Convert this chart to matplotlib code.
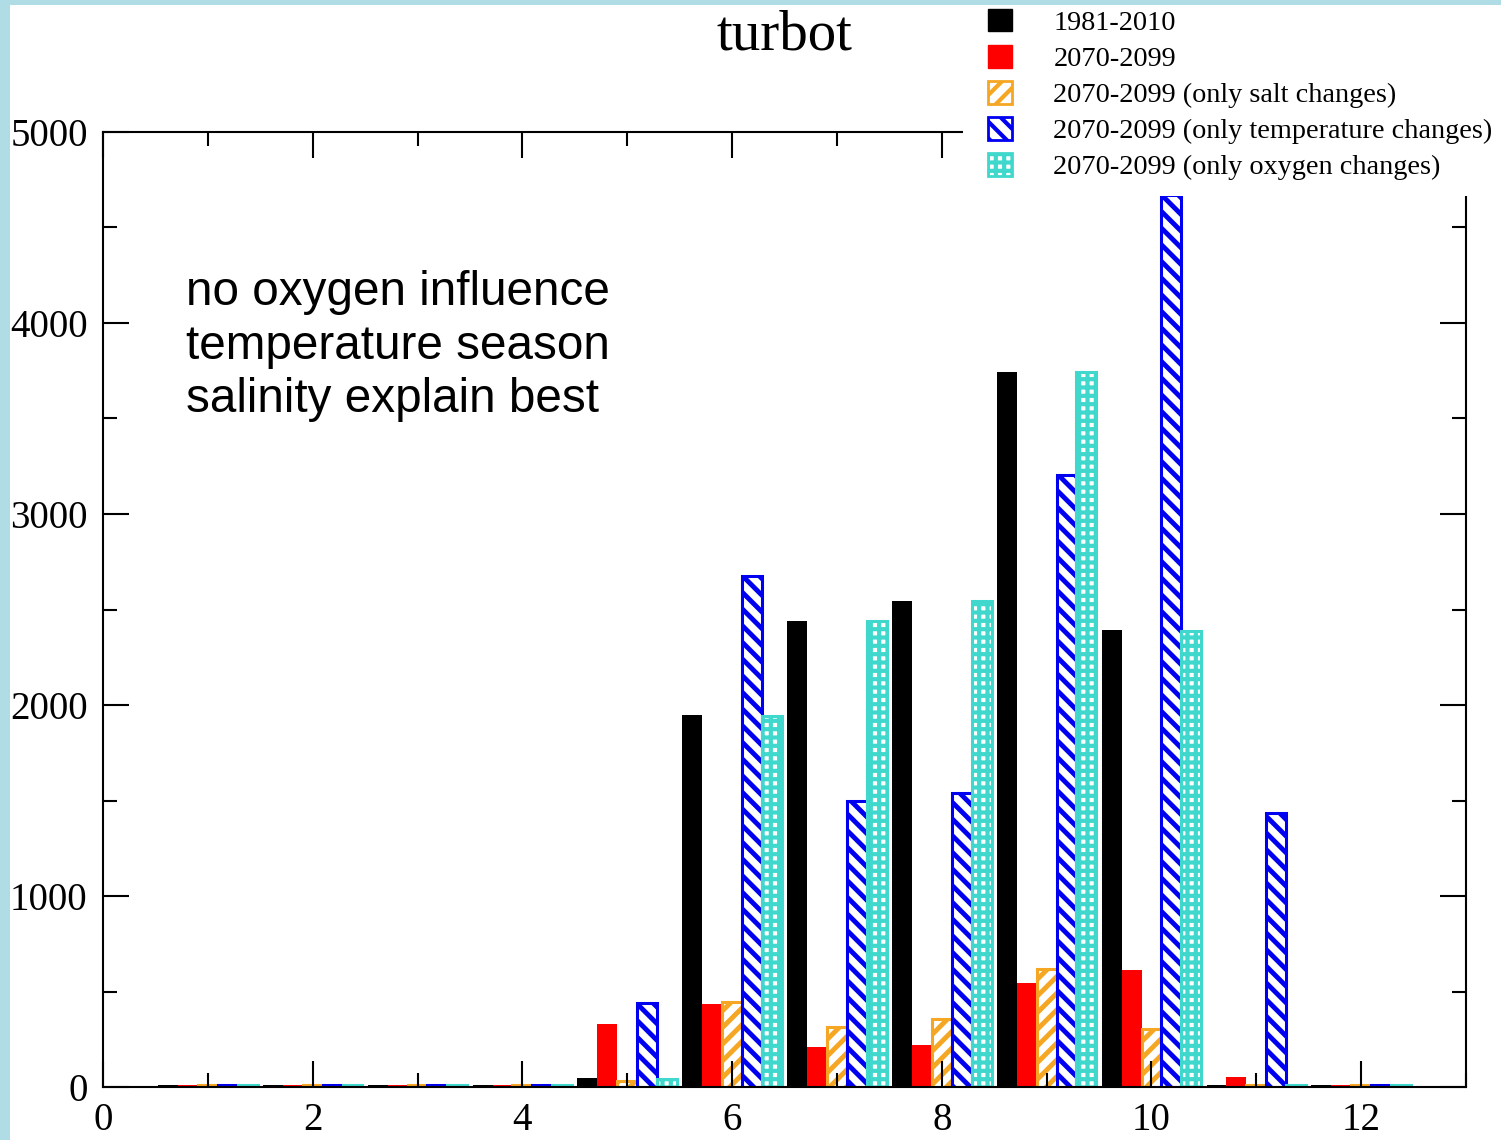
import matplotlib
matplotlib.use("Agg")
import matplotlib.pyplot as plt
from matplotlib.patches import Patch, Rectangle
from matplotlib.ticker import MultipleLocator
import numpy as np

months = [1, 2, 3, 4, 5, 6, 7, 8, 9, 10, 11, 12]
past = [10, 10, 10, 10, 45, 1950, 2440, 2545, 3745, 2395, 10, 10]
future = [10, 10, 10, 10, 330, 432, 210, 220, 545, 615, 52, 10]
only_salt = [10, 10, 10, 10, 32, 445, 312, 356, 620, 302, 10, 10]
only_temp = [10, 10, 10, 10, 440, 2675, 1495, 1538, 3205, 4668, 1437, 10]
only_oxy = [10, 10, 10, 10, 42, 1945, 2440, 2545, 3745, 2390, 10, 10]
labels = ['1981-2010', '2070-2099', '2070-2099 (only salt changes)',
          '2070-2099 (only temperature changes)', '2070-2099 (only oxygen changes)']

black, red, orange, blue, cyan = '#000000', '#ff0000', '#f5a623', '#0000f0', '#40d8cc'
serif = ['Liberation Serif', 'DejaVu Serif']

fig = plt.figure(figsize=(15.01, 11.40), dpi=100, facecolor='#b0dce6')
fig.add_artist(Rectangle((10/1501, 0), 1, 1 - 5/1140, transform=fig.transFigure,
                         facecolor='white', edgecolor='none', zorder=-10))
ax = fig.add_axes([103/1501, 53/1140, 1363/1501, 955/1140])

x = np.array(months)
w = 0.19
ax.bar(x - 2*w, past, w, color=black, edgecolor=black, linewidth=0)
ax.bar(x - w, future, w, color=red, edgecolor=red, linewidth=0)

# hatched series: fill+hatch first, then outline on top
plt.rcParams['hatch.linewidth'] = 3.5
ax.bar(x, only_salt, w, facecolor='white', edgecolor=orange, hatch='//', linewidth=0)
ax.bar(x + w, only_temp, w, facecolor='white', edgecolor=blue, hatch='\\\\', linewidth=0)
h_salt = Patch(facecolor='white', edgecolor=orange, hatch='//', linewidth=2)
h_temp = Patch(facecolor='white', edgecolor=blue, hatch='\\\\', linewidth=2)
plt.rcParams['hatch.linewidth'] = 3.0
ax.bar(x + 2*w, only_oxy, w, facecolor='white', edgecolor=cyan, hatch='++', linewidth=0)
h_oxy = Patch(facecolor='white', edgecolor=cyan, hatch='++', linewidth=2)
ax.bar(x, only_salt, w, fill=False, edgecolor=orange, linewidth=2.2)
ax.bar(x + w, only_temp, w, fill=False, edgecolor=blue, linewidth=2.2)
ax.bar(x + 2*w, only_oxy, w, fill=False, edgecolor=cyan, linewidth=2.2)

ax.set_xlim(0, 13)
ax.set_ylim(0, 5000)
ax.xaxis.set_major_locator(MultipleLocator(2))
ax.xaxis.set_minor_locator(MultipleLocator(1))
ax.yaxis.set_major_locator(MultipleLocator(1000))
ax.yaxis.set_minor_locator(MultipleLocator(500))
ax.tick_params(which='both', direction='in', top=True, right=True, width=1.5)
ax.tick_params(which='major', length=19)
ax.tick_params(which='minor', length=10)
ax.tick_params(axis='x', pad=11)
ax.tick_params(axis='y', pad=11)
for t in ax.get_xticklabels() + ax.get_yticklabels():
    t.set_family(serif)
    t.set_fontsize(28)
for s in ax.spines.values():
    s.set_linewidth(1.5)

fig.text(784/1501, 1 - 35/1140, 'turbot', family=serif, fontsize=41,
         ha='center', va='center')
fig.text(186/1501, 1 - 270/1140,
         'no oxygen influence\ntemperature season\nsalinity explain best',
         family=['Liberation Sans', 'DejaVu Sans'], fontsize=34.3, va='top',
         linespacing=1.25)

# white box behind the legend hides the corner of the frame
fig.add_artist(Rectangle((963/1501, 1 - 196/1140), 1, 191/1140,
                         transform=fig.transFigure, facecolor='white',
                         edgecolor='none', zorder=4))
handles = [
    Patch(facecolor=black, edgecolor=black),
    Patch(facecolor=red, edgecolor=red),
    h_salt, h_temp, h_oxy,
]
leg = fig.legend(handles, labels, loc='upper left',
                 bbox_to_anchor=(988/1501, 1 - 9/1140),
                 prop={'family': serif, 'size': 20.3},
                 handlelength=0.85, handleheight=0.85, handletextpad=1.47,
                 labelspacing=0.32, borderpad=0.0, borderaxespad=0,
                 frameon=False)
leg.set_zorder(5)

fig.savefig('out.png', dpi=100, facecolor=fig.get_facecolor())
